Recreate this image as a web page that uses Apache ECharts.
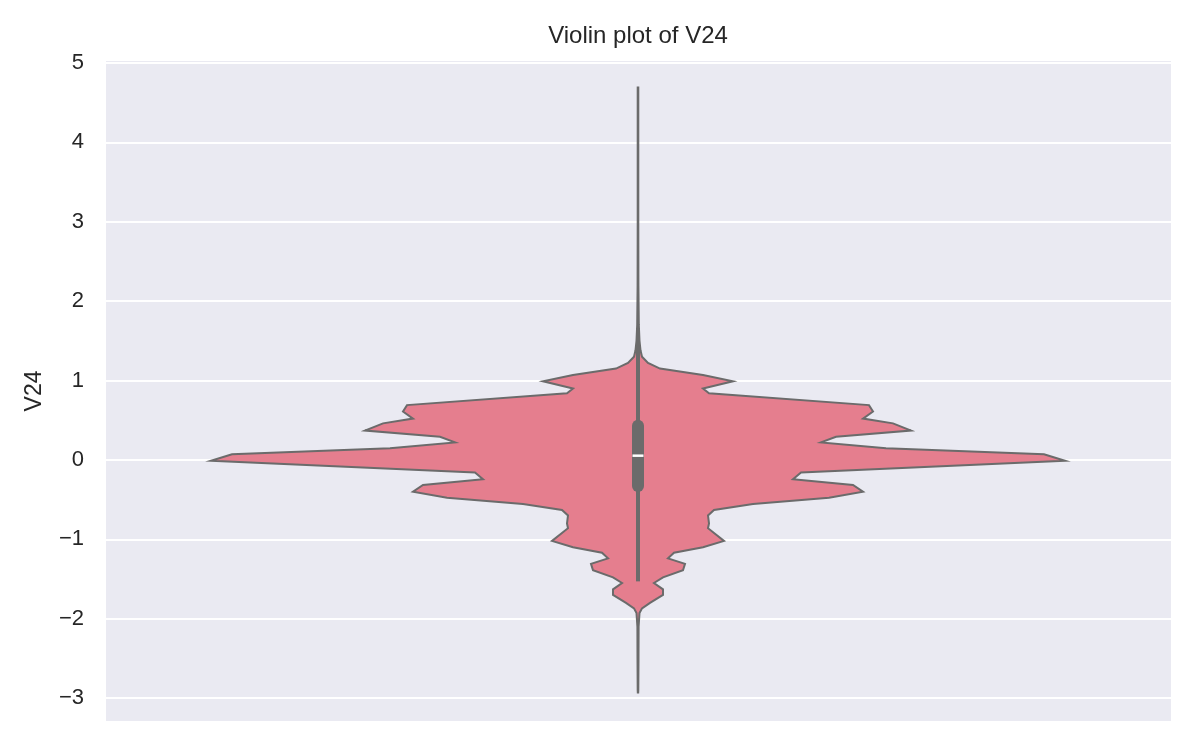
<!DOCTYPE html>
<html>
<head>
<meta charset="utf-8">
<title>Violin plot of V24</title>
<script src="https://cdn.jsdelivr.net/npm/echarts@6/dist/echarts.min.js"></script>
<style>
  html, body { margin: 0; padding: 0; background: #fff; }
  #main { width: 1200px; height: 750px; }
</style>
</head>
<body>
<div id="main"></div>
<script>
// violin outline: V24 value and half width (density, px units)
const violinY = [
  4.69, 4.0, 3.0, 2.2, 1.7, 1.5, 1.38, 1.30, 1.22, 1.15, 1.07, 0.99, 0.90, 0.84,
  0.69, 0.61, 0.52, 0.46, 0.37, 0.29, 0.22, 0.146, 0.07, -0.01, -0.16, -0.245,
  -0.316, -0.40, -0.476, -0.555, -0.63, -0.70, -0.80, -0.86, -1.02, -1.10, -1.17,
  -1.24, -1.31, -1.39, -1.48, -1.55, -1.63, -1.70, -1.80, -1.87, -1.93, -2.1,
  -2.5, -2.9, -2.93
];
const violinHalf = [
  0.3, 0.3, 0.3, 0.4, 0.8, 1.5, 2.5, 4, 10, 22, 65, 95, 65, 71,
  231, 235, 225, 255, 273, 198, 183, 248, 406, 427, 163, 155,
  215, 225, 191, 115, 76, 70, 71, 70, 86, 65, 36,
  30, 47, 45, 25, 16, 25, 25, 12, 4, 1.5, 0.6,
  0.5, 0.3, 0.2
];
// inner box: lower whisker, q1, median, q3, upper whisker
const boxStats = [-1.53, -0.33, 0.053, 0.43, 1.66];
const yTicks = [-3, -2, -1, 0, 1, 2, 3, 4, 5];

const chart = echarts.init(document.getElementById('main'));

const fmt = v => {
  if (Math.abs(v - Math.round(v)) > 1e-6 || yTicks.indexOf(Math.round(v)) < 0) return '';
  const r = Math.round(v);
  return r < 0 ? '\u2212' + Math.abs(r) : String(r);
};

const option = {
  animation: false,
  backgroundColor: '#ffffff',
  title: {
    text: 'Violin plot of V24',
    left: 638,
    textAlign: 'center',
    top: 24,
    padding: 0,
    textStyle: { fontFamily: 'Liberation Sans', fontSize: 24, fontWeight: 'normal', color: '#262626' }
  },
  grid: {
    left: 106, right: 29, top: 60, bottom: 28,
    show: true, backgroundColor: '#EAEAF2', borderWidth: 0
  },
  xAxis: {
    type: 'value', min: -532, max: 533, show: false
  },
  yAxis: {
    type: 'value',
    min: -3.301, max: 5.036,
    splitNumber: 8, minInterval: 1, maxInterval: 1,
    name: 'V24', nameLocation: 'middle', nameGap: 60,
    nameTextStyle: { fontFamily: 'Liberation Sans', fontSize: 23, color: '#262626' },
    axisLine: { show: false },
    axisTick: { show: false },
    splitLine: { lineStyle: { color: '#ffffff', width: 2 } },
    axisLabel: {
      formatter: fmt, margin: 22,
      fontFamily: 'Liberation Sans', fontSize: 22, color: '#262626'
    }
  },
  series: [
    {
      type: 'custom',
      silent: true,
      data: [0],
      renderItem: (params, api) => {
        const pts = [];
        for (let i = 0; i < violinY.length; i++) pts.push(api.coord([violinHalf[i], violinY[i]]));
        for (let i = violinY.length - 1; i >= 0; i--) pts.push(api.coord([-violinHalf[i], violinY[i]]));
        return {
          type: 'polygon',
          shape: { points: pts },
          style: { fill: '#E57E8E', stroke: '#6b6b6b', lineWidth: 2, lineJoin: 'miter' }
        };
      }
    },
    {
      type: 'custom',
      silent: true,
      data: [0],
      renderItem: (params, api) => {
        const lo = api.coord([0, boxStats[0]]);
        const q1 = api.coord([0, boxStats[1]]);
        const med = api.coord([0, boxStats[2]]);
        const q3 = api.coord([0, boxStats[3]]);
        const hi = api.coord([0, boxStats[4]]);
        return {
          type: 'group',
          children: [
            { type: 'line', shape: { x1: lo[0], y1: lo[1], x2: hi[0], y2: hi[1] },
              style: { stroke: '#6b6b6b', lineWidth: 4 } },
            { type: 'line', shape: { x1: q1[0], y1: q1[1], x2: q3[0], y2: q3[1] },
              style: { stroke: '#6b6b6b', lineWidth: 12, lineCap: 'round' } },
            { type: 'line', shape: { x1: med[0] - 5.5, y1: med[1], x2: med[0] + 5.5, y2: med[1] },
              style: { stroke: '#ffffff', lineWidth: 2.5 } }
          ]
        };
      }
    }
  ]
};

chart.setOption(option);
</script>
</body>
</html>
